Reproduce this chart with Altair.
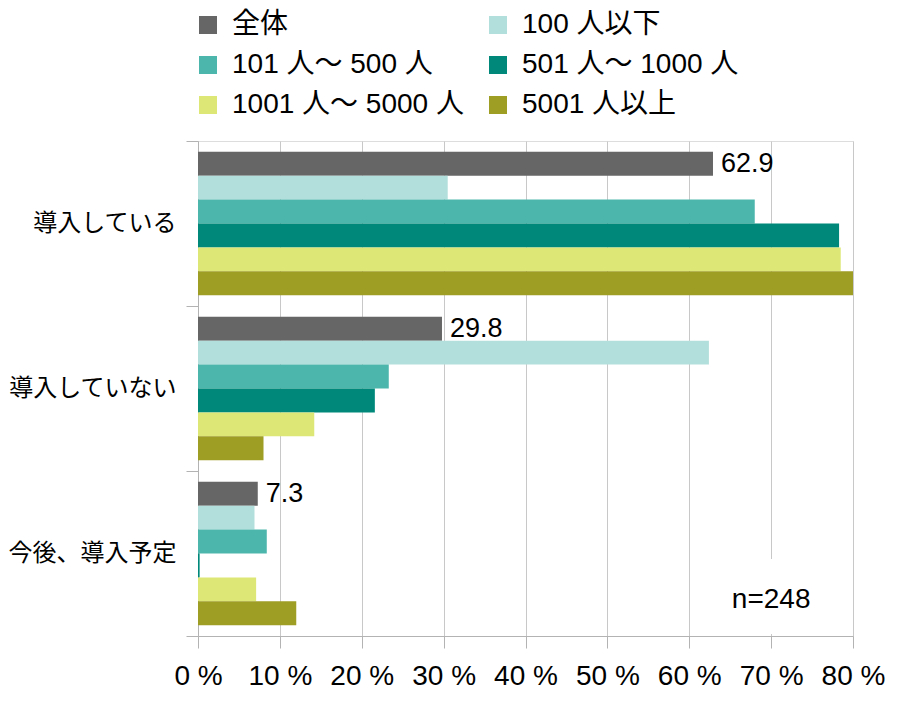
import altair as alt
import pandas as pd

categories = ["導入している", "導入していない", "今後、導入予定"]
series = ["全体", "100 人以下", "101 人～ 500 人", "501 人～ 1000 人", "1001 人～ 5000 人", "5001 人以上"]
colors = ["#666666", "#b2dfdb", "#4db6ac", "#00897b", "#dce775", "#9e9d24"]

v_all = [62.9, 29.8, 7.3]
v_100 = [30.5, 62.4, 6.9]
v_500 = [68.0, 23.3, 8.4]
v_1000 = [78.3, 21.6, 0.2]
v_5000 = [78.5, 14.2, 7.1]
v_5001 = [80.0, 8.0, 12.0]

vals = [v_all, v_100, v_500, v_1000, v_5000, v_5001]
rows = []
for s, vs in zip(series, vals):
    for c, v in zip(categories, vs):
        rows.append({"cat": c, "series": s, "value": v})
df = pd.DataFrame(rows)
lab = df[df["series"] == "全体"].copy()
lab["text"] = lab["value"].map(lambda v: f"{v:.1f}")

FONT = "Liberation Sans, Noto Sans CJK JP"

y_enc = alt.Y("cat:N", sort=categories,
              scale=alt.Scale(paddingInner=0, paddingOuter=0),
              axis=alt.Axis(title=None, labelFontSize=24, labelFont="Noto Sans CJK JP",
                            labelColor="#000", tickBand="extent", tickSize=12,
                            tickColor="#b3b3b3", domainColor="#b3b3b3", labelPadding=10,
                            grid=False, labelLimit=300))
x_enc = alt.X("value:Q", scale=alt.Scale(domain=[0, 80], nice=False),
              axis=alt.Axis(title=None, values=list(range(0, 81, 10)),
                            labelExpr="datum.value + ' %'", labelFontSize=28,
                            labelFont=FONT, labelColor="#000", tickSize=12,
                            tickColor="#b3b3b3", domainColor="#b3b3b3",
                            gridColor="#c8c8c8", labelPadding=14, labelFlush=False))
yoff = alt.YOffset("series:N", sort=series,
                   scale=alt.Scale(domain=series, paddingInner=0, paddingOuter=0.45))

bars = alt.Chart(df).mark_bar(clip=True).encode(
    y=y_enc, x=x_enc, yOffset=yoff,
    color=alt.Color("series:N", sort=series,
                    scale=alt.Scale(domain=series, range=colors),
                    legend=alt.Legend(title=None, orient="none", legendX=-4, legendY=-130,
                                      columns=2, direction="horizontal",
                                      symbolType="square", symbolSize=324,
                                      symbolStrokeWidth=0, labelFontSize=28, labelFont=FONT,
                                      labelColor="#000", labelOffset=10, columnPadding=20,
                                      rowPadding=12, padding=0, labelLimit=400)),
)

texts = alt.Chart(lab).mark_text(align="left", baseline="middle", dx=8, fontSize=27,
                                 font=FONT, color="#000").encode(
    y=alt.Y("cat:N", sort=categories), x="value:Q", yOffset=alt.YOffset("series:N", sort=series),
    text="text:N")

nbox = alt.Chart(pd.DataFrame({"a": [0]})).mark_rect(color="white").encode(
    x=alt.datum(64.3), x2=alt.datum(75.6), y=alt.value(418), y2=alt.value(493))
ntext = alt.Chart(pd.DataFrame({"a": [0]})).mark_text(fontSize=28, font=FONT, color="#000",
                                                       baseline="middle").encode(
    x=alt.datum(70), y=alt.value(459), text=alt.value("n=248"))

chart = alt.layer(bars, nbox, ntext, texts).properties(
    width=655, height=495,
    padding={"left": 0, "top": 3, "right": 5, "bottom": 5},
).configure_view(stroke="#b3b3b3").configure(font=FONT)

chart.save("out.html", embed_options={"renderer": "svg", "actions": False})
